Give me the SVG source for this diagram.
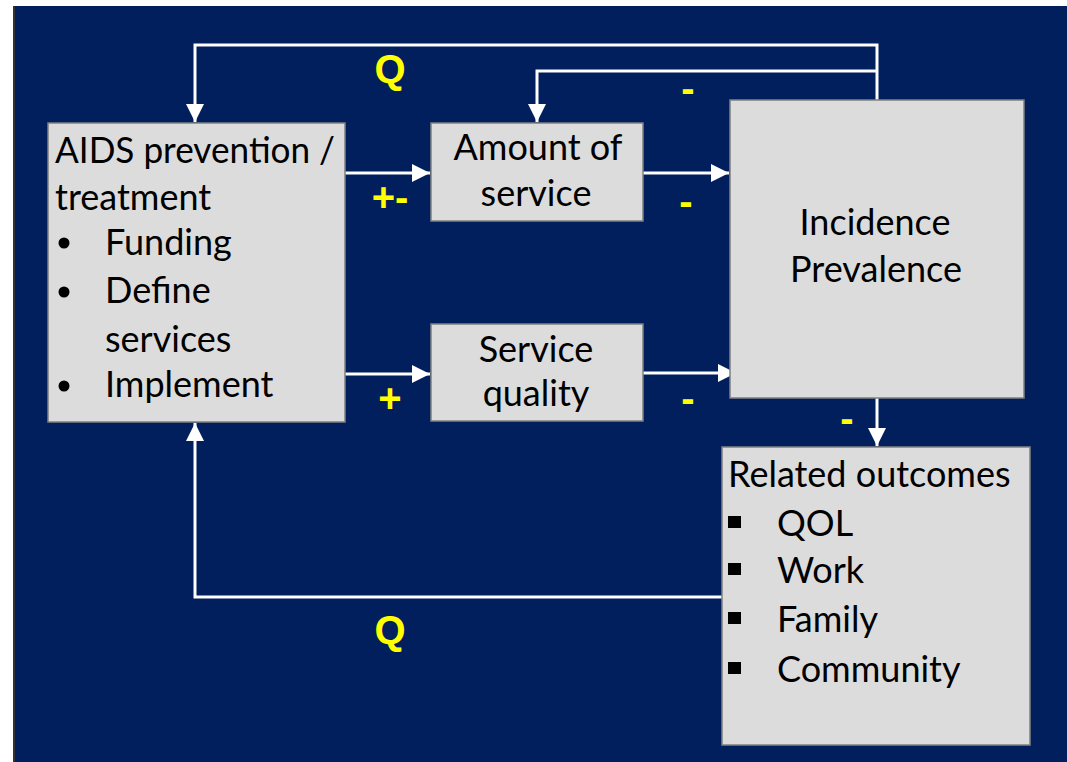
<svg xmlns="http://www.w3.org/2000/svg" width="1067" height="762" viewBox="0 0 1067 762">
  <defs>
    <style>
      .box { fill: #DCDCDC; stroke: #808080; stroke-width: 1.5; }
      .lbl { font-family: Lato, "Open Sans", sans-serif; font-size: 36px; fill: #000000; }
      .sign { font-family: "Liberation Sans", Arial, sans-serif; font-weight: bold; font-size: 40px; fill: #FFFF00; }
      .wire { fill: none; stroke: #FFFFFF; stroke-width: 3; stroke-linejoin: miter; }
    </style>
    <marker id="head" markerUnits="userSpaceOnUse" markerWidth="20" markerHeight="20" viewBox="0 0 20 20" refX="18" refY="10" orient="auto">
      <path d="M0,1 L18,10 L0,19 z" fill="#FFFFFF"/>
    </marker>
  </defs>

  <!-- slide background -->
  <rect x="0" y="0" width="1067" height="762" fill="#FFFFFF"/>
  <rect x="14" y="6" width="1053" height="756" fill="#001F5C"/>
  <line x1="14" y1="6" x2="14" y2="762" stroke="#333333" stroke-width="2"/>

  <!-- connectors -->
  <g id="connectors">
    <path class="wire" d="M877,100 V45 H195 V122" marker-end="url(#head)"/>
    <path class="wire" d="M877,71 H537 V122" marker-end="url(#head)"/>
    <path class="wire" d="M345,173 H430" marker-end="url(#head)"/>
    <path class="wire" d="M643,173 H729" marker-end="url(#head)"/>
    <path class="wire" d="M345,374 H430" marker-end="url(#head)"/>
    <path class="wire" d="M643,373 H736" marker-end="url(#head)"/>
    <path class="wire" d="M877,398 V446" marker-end="url(#head)"/>
    <path class="wire" d="M722,597 H195 V423" marker-end="url(#head)"/>
  </g>

  <!-- sign labels -->
  <g id="signs">
    <text class="sign" x="390" y="83" text-anchor="middle">Q</text>
    <text class="sign" x="688" y="102" text-anchor="middle">-</text>
    <text class="sign" x="390" y="211" text-anchor="middle">+-</text>
    <text class="sign" x="686" y="215" text-anchor="middle">-</text>
    <text class="sign" x="390" y="412" text-anchor="middle">+</text>
    <text class="sign" x="688" y="412" text-anchor="middle">-</text>
    <text class="sign" x="847" y="432" text-anchor="middle">-</text>
    <text class="sign" x="390" y="644" text-anchor="middle">Q</text>
  </g>

  <g id="aids">
    <rect class="box" x="48" y="123" width="297" height="299"/>
    <text class="lbl" x="55" y="163" textLength="280" lengthAdjust="spacingAndGlyphs">AIDS prevention /</text>
    <text class="lbl" x="55" y="210">treatment</text>
    <circle cx="64" cy="243" r="5.5"/>
    <text class="lbl" x="105" y="255">Funding</text>
    <circle cx="64" cy="292" r="5.5"/>
    <text class="lbl" x="105" y="303">Define</text>
    <text class="lbl" x="105" y="352">services</text>
    <circle cx="64" cy="386" r="5.5"/>
    <text class="lbl" x="105" y="397">Implement</text>
  </g>

  <g id="amount">
    <rect class="box" x="431" y="123" width="212" height="98"/>
    <text class="lbl" x="538" y="160" text-anchor="middle">Amount of</text>
    <text class="lbl" x="536" y="206" text-anchor="middle">service</text>
  </g>

  <g id="quality">
    <rect class="box" x="431" y="324" width="212" height="97"/>
    <text class="lbl" x="536" y="362" text-anchor="middle">Service</text>
    <text class="lbl" x="536" y="406" text-anchor="middle">quality</text>
  </g>

  <g id="incidence">
    <rect class="box" x="730" y="100" width="294" height="298"/>
    <text class="lbl" x="875" y="235" text-anchor="middle">Incidence</text>
    <text class="lbl" x="876" y="282" text-anchor="middle">Prevalence</text>
  </g>

  <g id="outcomes">
    <rect class="box" x="722" y="447" width="308" height="298"/>
    <text class="lbl" x="728" y="487">Related outcomes</text>
    <rect x="728" y="516" width="13" height="12"/>
    <text class="lbl" x="777" y="536">QOL</text>
    <rect x="728" y="563" width="13" height="12"/>
    <text class="lbl" x="777" y="583">Work</text>
    <rect x="728" y="612" width="13" height="12"/>
    <text class="lbl" x="777" y="632">Family</text>
    <rect x="728" y="662" width="13" height="12"/>
    <text class="lbl" x="777" y="682">Community</text>
  </g>
</svg>
